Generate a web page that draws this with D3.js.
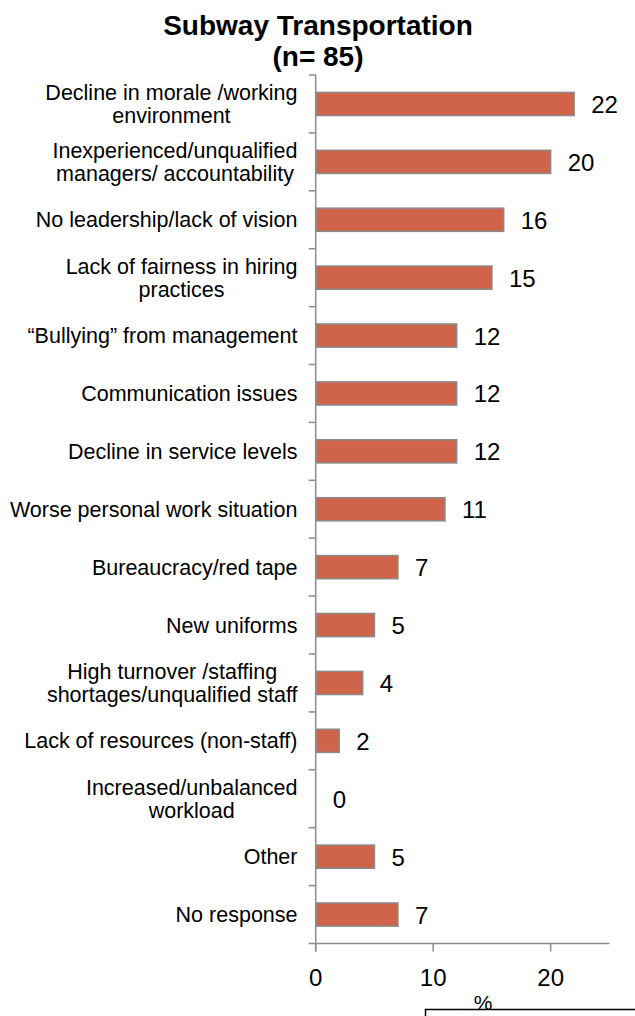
<!DOCTYPE html>
<html>
<head>
<meta charset="utf-8">
<script src="https://cdn.jsdelivr.net/npm/d3@7"></script>
<style>
  html, body { margin: 0; padding: 0; background: #ffffff; }
  svg { display: block; font-family: "Liberation Sans", Arial, sans-serif; }
</style>
</head>
<body>
<svg id="chart" width="635" height="1016"></svg>
<script>
// Survey categories (line breaks mark wrapped labels)
const categories = [
  "Decline in morale /working\nenvironment",
  "Inexperienced/unqualified\nmanagers/ accountability",
  "No leadership/lack of vision",
  "Lack of fairness in hiring\npractices",
  "\u201CBullying\u201D from management",
  "Communication issues",
  "Decline in service levels",
  "Worse personal work situation",
  "Bureaucracy/red tape",
  "New uniforms",
  "High turnover /staffing\nshortages/unqualified staff",
  "Lack of resources (non-staff)",
  "Increased/unbalanced\nworkload",
  "Other",
  "No response"
];
// Percent of respondents
const values = [22, 20, 16, 15, 12, 12, 12, 11, 7, 5, 4, 2, 0, 5, 7];
const xTicks = [0, 10, 20];
const titleLines = ["Subway Transportation", "(n= 85)"];
const axisUnit = "%";

const svg = d3.select("#chart");
const axisColor = "#8c8c8c";
const barColor = "#d0644b";

const x = d3.scaleLinear().domain([0, 25]).range([315.7, 609.4]);
const y = d3.scaleBand()
  .domain(categories)
  .range([75, 943.5])
  .paddingInner(0.6)
  .paddingOuter(0.3);

const step = y.step();
const gapHalf = (step - y.bandwidth()) / 2;

// Title
svg.append("g").selectAll("text")
  .data(titleLines)
  .join("text")
  .attr("x", 318)
  .attr("y", (d, i) => 35 + i * 31)
  .attr("text-anchor", "middle")
  .attr("font-size", 28)
  .attr("font-weight", "bold")
  .attr("fill", "#000")
  .text(d => d);

// Bars
svg.append("g").selectAll("rect")
  .data(values)
  .join("rect")
  .attr("x", x(0))
  .attr("y", (d, i) => y(categories[i]))
  .attr("width", d => x(d) - x(0))
  .attr("height", y.bandwidth())
  .attr("fill", barColor)
  .attr("stroke", d => d > 0 ? "#8a8a8a" : "none")
  .attr("stroke-width", 1.5);

// Value labels
svg.append("g").selectAll("text")
  .data(values)
  .join("text")
  .attr("x", d => x(d) + 17)
  .attr("y", (d, i) => y(categories[i]) + y.bandwidth() / 2 + 9)
  .attr("font-size", 24)
  .attr("fill", "#000")
  .text(d => d);

// Category axis: line plus ticks at band boundaries
const yAxis = svg.append("g").attr("stroke", axisColor).attr("stroke-width", 1.5);
yAxis.append("line")
  .attr("x1", x(0)).attr("x2", x(0))
  .attr("y1", y(categories[0]) - gapHalf)
  .attr("y2", 951.5);
const boundaries = categories.map(c => y(c) - gapHalf);
yAxis.selectAll("line.tick")
  .data(boundaries)
  .join("line")
  .attr("class", "tick")
  .attr("x1", x(0) - 7).attr("x2", x(0))
  .attr("y1", d => d).attr("y2", d => d);

// Value axis
const xAxisY = y(categories[categories.length - 1]) + y.bandwidth() + gapHalf;
const xAxisG = svg.append("g").attr("stroke", axisColor).attr("stroke-width", 1.5);
xAxisG.append("line")
  .attr("x1", x(0) - 7).attr("x2", x.range()[1])
  .attr("y1", xAxisY).attr("y2", xAxisY);
xAxisG.selectAll("line.tick")
  .data(xTicks)
  .join("line")
  .attr("class", "tick")
  .attr("x1", d => x(d)).attr("x2", d => x(d))
  .attr("y1", xAxisY).attr("y2", xAxisY + 8);

svg.append("g").selectAll("text")
  .data(xTicks)
  .join("text")
  .attr("x", d => x(d))
  .attr("y", 986)
  .attr("text-anchor", "middle")
  .attr("font-size", 24)
  .attr("fill", "#000")
  .text(d => d);

// Category labels, each block centred with its widest line ending at the right edge
const labelRight = 297.5;
const lineH = 23;
const labelG = svg.append("g");
categories.forEach(c => {
  const lines = c.split("\n");
  const cy = y(c) + y.bandwidth() / 2;
  const t = labelG.append("text")
    .attr("font-size", 21.5)
    .attr("fill", "#000")
    .attr("text-anchor", "middle");
  lines.forEach((ln, i) => {
    t.append("tspan")
      .attr("y", cy + (i - (lines.length - 1) / 2) * lineH + 7.5)
      .text(ln);
  });
  let w = 0;
  t.selectAll("tspan").each(function () { w = Math.max(w, this.getComputedTextLength()); });
  t.selectAll("tspan").attr("x", labelRight - w / 2);
});

// Unit caption and the frame beneath it
svg.append("text")
  .attr("x", 483)
  .attr("y", 1010)
  .attr("text-anchor", "middle")
  .attr("font-size", 21)
  .attr("fill", "#000")
  .text(axisUnit);
svg.append("rect")
  .attr("x", 425.5)
  .attr("y", 1009.5)
  .attr("width", 260)
  .attr("height", 40)
  .attr("fill", "#fff")
  .attr("stroke", "#000")
  .attr("stroke-width", 1.5);
</script>
</body>
</html>
